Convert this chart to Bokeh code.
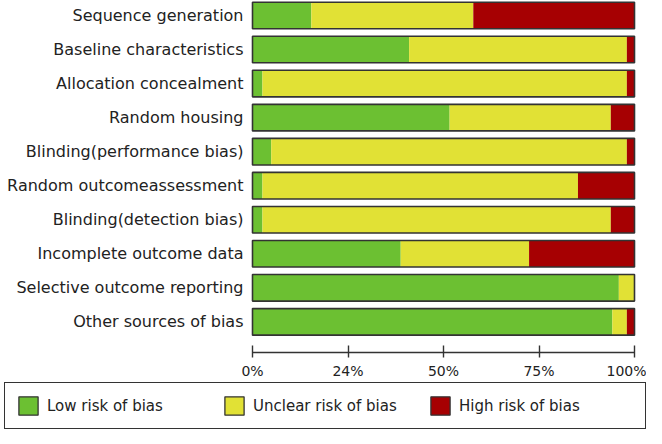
import numpy as np
from bokeh.plotting import figure
from bokeh.layouts import column
from bokeh.models import Range1d, FixedTicker, Legend, LegendItem, ColumnDataSource
from bokeh.core.properties import value
from bokeh.embed import file_html
from bokeh.resources import INLINE

categories = [
    "Sequence generation",
    "Baseline characteristics",
    "Allocation concealment",
    "Random housing",
    "Blinding(performance bias)",
    "Random outcomeassessment",
    "Blinding(detection bias)",
    "Incomplete outcome data",
    "Selective outcome reporting",
    "Other sources of bias",
]
low = [15.4, 41.0, 2.6, 51.6, 4.9, 2.6, 2.6, 38.8, 95.9, 94.2]
unclear = [42.4, 57.0, 95.4, 42.2, 93.1, 82.6, 91.2, 33.6, 4.1, 3.8]
high = [42.2, 2.0, 2.0, 6.2, 2.0, 14.8, 6.2, 27.6, 0.0, 2.0]
series_names = ["Low risk of bias", "Unclear risk of bias", "High risk of bias"]
colors = ["#6CC032", "#E1E135", "#A60002"]
tick_values = [0, 25, 50, 75, 100]
tick_labels = ["0%", "24%", "50%", "75%", "100%"]

FONT = "DejaVu Sans"
TXT = "#222222"
EDGE = "#333333"

n = len(categories)
ypos = list(range(n - 1, -1, -1))
total = (np.array(low) + np.array(unclear) + np.array(high)).tolist()

source = ColumnDataSource(dict(y=ypos, cat=categories, low=low, unclear=unclear,
                               high=high, total=total))

# ---- main chart: frame spans the full width; bars occupy 0..100 ----
px_per_unit = 382 / 100.0
p = figure(frame_width=646, frame_height=352,
           x_range=Range1d(-252 / px_per_unit, 100 + 12 / px_per_unit),
           y_range=Range1d(-0.90, 9.44),
           output_backend="svg", toolbar_location=None,
           min_border_left=0, min_border_right=0, min_border_top=0, min_border_bottom=0)

p.hbar_stack(["low", "unclear", "high"], y="y", height=0.78, source=source,
             fill_color=colors, line_color=None)
p.hbar(y="y", left=0, right="total", height=0.78, source=source,
       fill_color=None, line_color=EDGE, line_width=1.6)

p.text(x=0, y="y", text="cat", source=source, x_offset=-9,
       text_align="right", text_baseline="middle",
       text_font=value(FONT), text_font_size="16px", text_color=TXT)

xa = p.xaxis[0]
xa.ticker = FixedTicker(ticks=tick_values)
xa.major_label_overrides = {v: t for v, t in zip(tick_values, tick_labels)}
xa.bounds = (0, 100)
xa.axis_line_color = EDGE
xa.axis_line_width = 1.4
xa.major_tick_line_color = EDGE
xa.major_tick_line_width = 1.4
xa.major_tick_in = 7
xa.major_tick_out = 5
xa.minor_tick_line_color = None
xa.major_label_standoff = 5
xa.major_label_text_font = FONT
xa.major_label_text_font_size = "14px"
xa.major_label_text_color = TXT

p.yaxis.visible = False
p.xgrid.visible = False
p.ygrid.visible = False
p.outline_line_color = None

# ---- legend strip below the chart ----
lg = figure(frame_width=646, frame_height=49,
            x_range=Range1d(0, 1), y_range=Range1d(0, 1),
            x_axis_location=None, y_axis_location=None,
            output_backend="svg", toolbar_location=None,
            min_border_left=0, min_border_right=0, min_border_top=0, min_border_bottom=0)
lg.xgrid.visible = False
lg.ygrid.visible = False
lg.outline_line_color = None

items = []
for name, c in zip(series_names, colors):
    r = lg.hbar(y="y", left=0, right="total", height=0.78, source=source,
                fill_color=c, line_color=EDGE, line_width=1.3, visible=False)
    items.append(LegendItem(label=name, renderers=[r]))

legend = Legend(items=items, orientation="horizontal", location=(4, 1),
                border_line_color=EDGE, border_line_width=1.5, border_line_alpha=1,
                padding=11, spacing=0, glyph_width=24, glyph_height=23,
                label_standoff=7, label_width=175, label_height=20,
                label_text_font=FONT, label_text_font_size="15px", label_text_color=TXT,
                margin=0, background_fill_color="white", background_fill_alpha=1,
                click_policy="none")
lg.add_layout(legend)

layout = column(p, lg, spacing=0)
open("out.html", "w").write(file_html(layout, INLINE))
